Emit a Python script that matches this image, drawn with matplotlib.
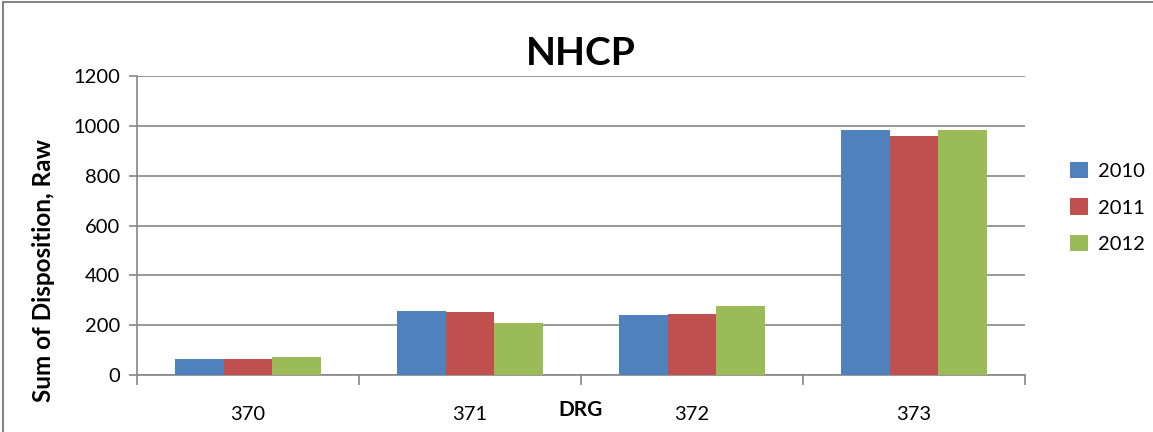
import matplotlib.pyplot as plt
import numpy as np
from matplotlib.patches import Rectangle

# values
drg = ['370', '371', '372', '373']
years = ['2010', '2011', '2012']
y2010 = [65, 255, 240, 984]
y2011 = [63, 252, 245, 961]
y2012 = [74, 208, 276, 984]
colors = ['#4F81BD', '#C0504D', '#9BBB59']

plt.rcParams['font.family'] = ['Lato', 'DejaVu Sans']

fig = plt.figure(figsize=(11.53, 4.32), dpi=100)
ax = fig.add_axes([0.1188, 0.132, 0.7702, 0.692])

x = np.arange(len(drg))
w = 0.22
for i, (vals, lab) in enumerate(zip([y2010, y2011, y2012], years)):
    ax.bar(x + (i - 1) * w, vals, width=w, color=colors[i], label=lab, zorder=3)

ax.set_xlim(-0.5, 3.5)
ax.set_ylim(0, 1200)
ax.set_yticks(range(0, 1201, 200))
ax.grid(axis='y', color='#868686', linewidth=1.2, zorder=0)

ax.set_xticks(x)
ax.set_xticklabels(drg)
ax.set_xticks(np.arange(-0.5, 4, 1), minor=True)
ax.tick_params(axis='x', which='major', length=0, pad=22, labelsize=14.5)
ax.tick_params(axis='x', which='minor', length=7, color='#868686', width=1.2)
ax.tick_params(axis='y', length=6, color='#868686', width=1.2, labelsize=14.5, pad=6)

for s in ['top', 'right']:
    ax.spines[s].set_visible(False)
for s in ['left', 'bottom']:
    ax.spines[s].set_color('#868686')
    ax.spines[s].set_linewidth(1.2)

ax.set_title('NHCP', fontsize=28, fontweight='bold', pad=8)
ax.set_ylabel('Sum of Disposition, Raw', fontsize=17.5, fontweight='bold')
ax.yaxis.set_label_coords(-0.092, 0.35)
ax.set_xlabel('DRG', fontsize=15, fontweight='bold')
ax.xaxis.set_label_coords(0.5, -0.085)
ax.xaxis.label.set_va('top')

fig.legend(loc='center left', bbox_to_anchor=(0.912, 0.52), frameon=False,
           fontsize=14.5, handlelength=0.9, handleheight=0.9, labelspacing=0.9,
           handletextpad=0.5)

fig.patches.append(Rectangle((0.003, -0.01), 1.05, 1.005, transform=fig.transFigure,
                             fill=False, edgecolor='#868686', linewidth=1.5))

fig.savefig('out.png', dpi=100)
